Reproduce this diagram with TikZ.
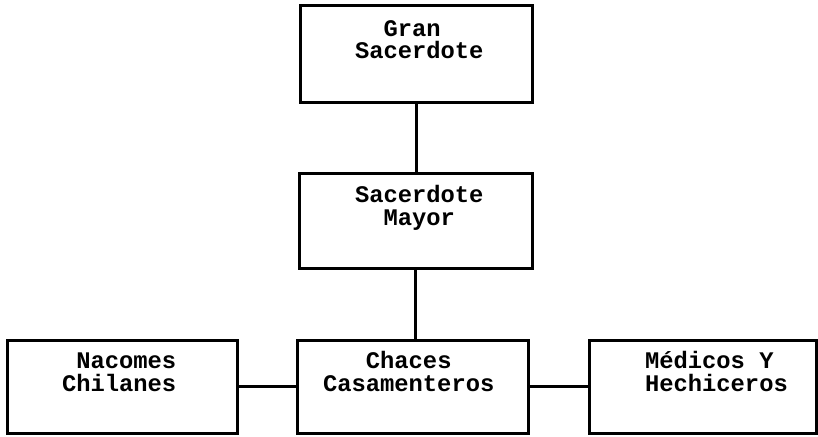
\documentclass[tikz,border=0pt]{standalone}
\usepackage{fontspec}
\setmonofont{Liberation Mono}
\begin{document}
\begin{tikzpicture}[x=1pt,y=-1pt,
  orgbox/.style={draw=black,line width=3pt,fill=white,inner sep=0pt,outer sep=0pt},
  boxtext/.style={anchor=base west,align=left,inner sep=0pt,outer sep=0pt,
    font=\ttfamily\bfseries\fontsize{23.8}{22.5}\selectfont},
  link/.style={draw=black,line width=3pt}]
  % canvas
  \fill[white] (0,0) rectangle (818,436);
  \useasboundingbox (0,0) rectangle (818,436);

  % boxes
  \node[orgbox,minimum width=232pt,minimum height=96pt] (gran) at (416,54) {};
  \node[orgbox,minimum width=233pt,minimum height=95pt] (mayor) at (415.5,220.5) {};
  \node[orgbox,minimum width=230pt,minimum height=93pt] (nacomes) at (122,386.5) {};
  \node[orgbox,minimum width=231pt,minimum height=93pt] (chaces) at (412.5,386.5) {};
  \node[orgbox,minimum width=227pt,minimum height=93pt] (medicos) at (702.5,386.5) {};

  % labels (anchored at the baseline of the second line)
  \node[boxtext] (granT) at (355,59) {\phantom{XX}Gran\\Sacerdote};
  \node[boxtext] (mayorT) at (355,225) {Sacerdote\\\phantom{XX}Mayor};
  \node[boxtext] (nacomesT) at (62,391) {\phantom{X}Nacomes\\Chilanes};
  \node[boxtext] (chacesT) at (323,391) {\phantom{XXX}Chaces\\Casamenteros};
  \node[boxtext] (medicosT) at (645,391) {Médicos Y\\Hechiceros};

  % connectors
  \draw[link] (gran.south) -- (gran.south |- mayor.north);
  \draw[link] (mayor.south) -- (mayor.south |- chaces.north);
  \draw[link] (nacomes.east) -- (chaces.west);
  \draw[link] (chaces.east) -- (medicos.west);
\end{tikzpicture}
\end{document}
